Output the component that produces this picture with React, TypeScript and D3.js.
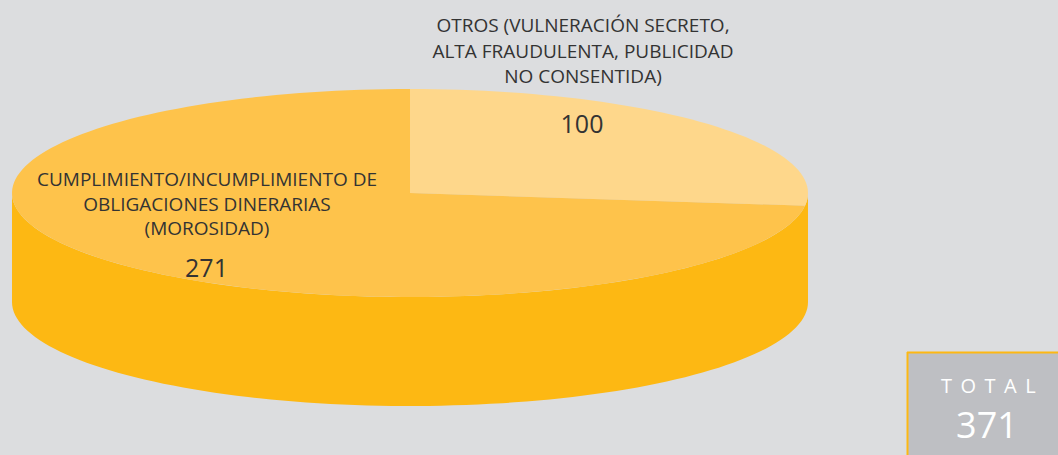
import React from "react";
import * as d3 from "d3";

const categories = ["OTROS", "CUMPLIMIENTO"];
const values = [100, 271];
const labelLines = [
  ["OTROS (VULNERACIÓN SECRETO,", "ALTA FRAUDULENTA, PUBLICIDAD", "NO CONSENTIDA)"],
  ["CUMPLIMIENTO/INCUMPLIMIENTO DE", "OBLIGACIONES DINERARIAS", "(MOROSIDAD)"],
];
const totalLabel = "TOTAL";

const W = 1058;
const H = 455;
const cx = 410;
const cy = 193;
const rx = 398;
const ry = 104;
const depth = 109;

const topColors = ["#FED78B", "#FEC34B"];
const sideColor = "#FDB813";

function pt(a: number, dy = 0): [number, number] {
  return [cx + rx * Math.sin(a), cy - ry * Math.cos(a) + dy];
}

function arcPoints(a0: number, a1: number, dy = 0): [number, number][] {
  const n = Math.max(2, Math.ceil(((a1 - a0) / (Math.PI * 2)) * 200));
  const pts: [number, number][] = [];
  for (let i = 0; i <= n; i++) pts.push(pt(a0 + ((a1 - a0) * i) / n, dy));
  return pts;
}

export default function App() {
  const pie = d3.pie<number>().sort(null).value((d) => d);
  const arcs = pie(values);
  const line = d3.line();
  const total = d3.sum(values);

  const sides = arcs.map((a, i) => {
    const s = Math.max(a.startAngle, Math.PI / 2);
    const e = Math.min(a.endAngle, (Math.PI * 3) / 2);
    if (e <= s) return null;
    const top = arcPoints(s, e);
    const bot = arcPoints(s, e, depth).reverse();
    return <path key={"s" + i} d={line([...top, ...bot])! + "Z"} fill={sideColor} />;
  });

  const tops = arcs.map((a, i) => {
    const pts = [[cx, cy] as [number, number], ...arcPoints(a.startAngle, a.endAngle)];
    return <path key={"t" + i} d={line(pts)! + "Z"} fill={topColors[i]} />;
  });

  const font = "'Open Sans', 'Noto Sans', sans-serif";
  const textColor = "#333333";

  return (
    <svg width={W} height={H} style={{ position: "absolute", left: 0, top: 0, display: "block" }}>
      <rect x={0} y={0} width={W} height={H} fill="#DCDDDF" />
      {sides}
      {tops}
      <g fontFamily={font} fill={textColor} textAnchor="middle">
        {labelLines[0].map((l, i) => (
          <text key={i} x={583} y={32 + i * 25.5} fontSize={19}>
            {l}
          </text>
        ))}
        <text x={582} y={133} fontSize={25}>
          {values[0]}
        </text>
        {labelLines[1].map((l, i) => (
          <text key={"b" + i} x={207} y={186 + i * 24.5} fontSize={19}>
            {l}
          </text>
        ))}
        <text x={206.5} y={277} fontSize={25}>
          {values[1]}
        </text>
      </g>
      <rect x={907} y={352} width={151} height={103} fill="#BEBFC3" />
      <line x1={907.5} y1={352} x2={907.5} y2={455} stroke="#FDB813" strokeWidth={2} />
      <line x1={907} y1={352.5} x2={1058} y2={352.5} stroke="#FDB813" strokeWidth={2} />
      <text x={941} y={393} fill="#ffffff" fontFamily={font} fontSize={20} letterSpacing={8.5}>
        {totalLabel}
      </text>
      <text x={987} y={438} fill="#ffffff" fontFamily={font} fontSize={36} textAnchor="middle">
        {total}
      </text>
    </svg>
  );
}
